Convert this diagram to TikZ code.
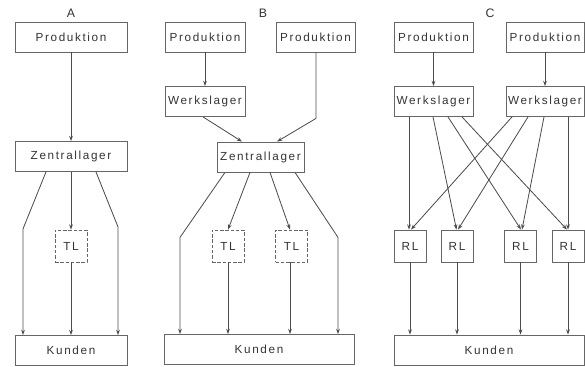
\documentclass[tikz,border=0pt]{standalone}
\usepackage{fontspec}
\setmainfont[LetterSpace=14]{Liberation Sans}
\usetikzlibrary{calc,arrows.meta}

\begin{document}
\begin{tikzpicture}[x=0.03cm,y=-0.03cm,
		box/.style={draw=black!60, line width=0.7pt, minimum height=0.9cm, inner sep=0pt, text=black!80, font=\fontsize{10}{12}\selectfont},
		tlbox/.style={box, dash pattern=on 3pt off 1.5pt, minimum width=0.96cm, minimum height=0.96cm},
		rlbox/.style={box, minimum width=0.96cm, minimum height=0.96cm},
		title/.style={text=black!80, font=\fontsize{10.5}{12}\selectfont},
		arr/.style={draw=black!70, line width=0.7pt, -{Stealth[length=4.5pt,width=3.2pt]}}]
		\useasboundingbox (0,0) rectangle (585,367);
		
		%panel A
		\node[title] (labA) at (71,13) {A};
		\node[box, minimum width=3.36cm] (pA) at (71,37) {Produktion};
		\node[box, minimum width=3.36cm] (zA) at (71,156.5) {Zentrallager};
		\node[tlbox] (tA) at (71,246) {TL};
		\node[box, minimum width=3.36cm] (kA) at (71,350.5) {Kunden};
		
		\draw[arr] (pA) -- (zA);
		\draw[arr] (zA) -- (tA);
		\draw[arr] (tA) -- (kA);
		\draw[arr] ($(zA.south)+(-25,0)$) -- ++(-23,57) -- ($(kA.north)+(-48,0)$);
		\draw[arr] ($(zA.south)+(25,0)$) -- ++(22,55) -- ($(kA.north)+(47,0)$);
		
		%panel B
		\node[title] (labB) at (263,13) {B};
		\node[box, minimum width=2.4cm] (pB1) at (205,37) {Produktion};
		\node[box, minimum width=2.37cm] (pB2) at (315.5,37) {Produktion};
		\node[box, minimum width=2.4cm] (wB) at (205,101.5) {Werkslager};
		\node[box, minimum width=2.61cm] (zB) at (260.5,157) {Zentrallager};
		\node[tlbox] (tB1) at (228,246) {TL};
		\node[tlbox] (tB2) at (291.5,246) {TL};
		\node[box, minimum width=5.7cm] (kB) at (259,349.5) {Kunden};
		
		\draw[arr] (pB1) -- (wB);
		\draw[arr] ($(wB.south)+(-2,0)$) -- ($(zB.north)+(-18.5,0)$);
		\draw[arr] ($(pB2.south)+(0.5,0)$) -- ++(0,66) -- ($(zB.north)+(16.5,0)$);
		\draw[arr] ($(zB.south)+(-35.5,0)$) -- ++(-45,65) -- ($(kB.north)+(-79,0)$);
		\draw[arr] ($(zB.south)+(-10.5,0)$) -- (tB1.north);
		\draw[arr] ($(zB.south)+(9.5,0)$) -- ($(tB2.north)+(-1.5,0)$);
		\draw[arr] ($(zB.south)+(34.5,0)$) -- ++(43,65) -- ($(kB.north)+(79,0)$);
		\draw[arr] (tB1) -- (tB1 |- kB.north);
		\draw[arr] ($(tB2.south)+(-1.5,0)$) -- ($(kB.north)+(31,0)$);
		
		%panel C
		\node[title] (labC) at (490,13) {C};
		\node[box, minimum width=2.37cm] (pC1) at (433.5,37) {Produktion};
		\node[box, minimum width=2.34cm] (pC2) at (545,37) {Produktion};
		\node[box, minimum width=2.37cm] (wC1) at (433.5,101.5) {Werkslager};
		\node[box, minimum width=2.34cm] (wC2) at (545,101.5) {Werkslager};
		\node[rlbox] (rC1) at (410,246) {RL};
		\node[rlbox] (rC2) at (457,246) {RL};
		\node[rlbox] (rC3) at (520.5,246) {RL};
		\node[rlbox] (rC4) at (568,246) {RL};
		\node[box, minimum width=5.7cm] (kC) at (489,350) {Kunden};
		
		\draw[arr] (pC1) -- (wC1);
		\draw[arr] (pC2) -- (wC2);
		%from left Werkslager
		\draw[arr] ($(wC1.south)+(-24.5,0)$) -- ($(rC1.north)+(-1,0)$);
		\draw[arr] ($(wC1.south)+(-0.5,0)$) -- ($(rC2.north)+(-0.5,0)$);
		\draw[arr] ($(wC1.south)+(14.5,0)$) -- ($(rC3.north)+(0.5,0)$);
		\draw[arr] ($(wC1.south)+(28.5,0)$) -- ($(rC4.north)+(-1,0)$);
		%from right Werkslager
		\draw[arr] ($(wC2.south)+(-33,0)$) -- ($(rC1.north)+(1,0)$);
		\draw[arr] ($(wC2.south)+(-17,0)$) -- ($(rC2.north)+(1,0)$);
		\draw[arr] ($(wC2.south)+(-1,0)$) -- ($(rC3.north)+(1.5,0)$);
		\draw[arr] ($(wC2.south)+(23,0)$) -- (rC4.north);
		%to Kunden
		\draw[arr] (rC1) -- (rC1 |- kC.north);
		\draw[arr] (rC2) -- (rC2 |- kC.north);
		\draw[arr] (rC3) -- (rC3 |- kC.north);
		\draw[arr] (rC4) -- (rC4 |- kC.north);
\end{tikzpicture}
\end{document}
